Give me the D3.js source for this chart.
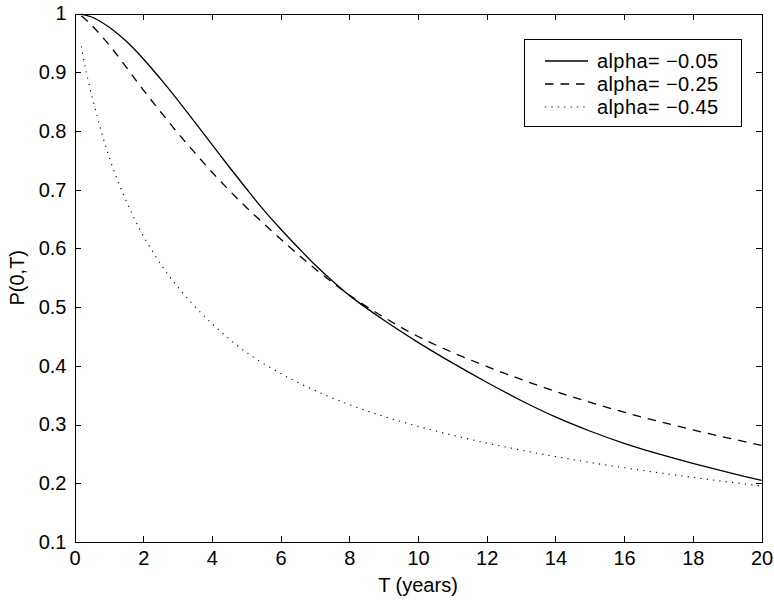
<html>
<head>
<meta charset="utf-8">
<script src="https://d3js.org/d3.v7.min.js"></script>
<style>
  body { margin: 0; background: #fff; }
  text { font-family: "Liberation Sans", Arial, Helvetica, sans-serif; }
  .axis path, .axis line { stroke: #000; stroke-width: 1; shape-rendering: crispEdges; }
</style>
</head>
<body>
<script>

// maturities (years) for the two upper curves
var T_main = [0.2, 0.5, 1, 1.5, 2, 2.5, 3, 3.5, 4, 4.5, 5, 5.5, 6, 6.5, 7, 7.5, 8, 9, 10, 11, 12, 13, 14, 15, 16, 17, 18, 19, 20];
// alpha = -0.05 (solid)
var P_a05 = [0.999, 0.994, 0.977, 0.953, 0.923, 0.889, 0.853, 0.815, 0.777, 0.739, 0.702, 0.666, 0.633, 0.602, 0.572, 0.545, 0.520, 0.478, 0.440, 0.405, 0.372, 0.341, 0.313, 0.289, 0.268, 0.250, 0.234, 0.219, 0.205];
// alpha = -0.25 (dashed)
var P_a25 = [0.996, 0.980, 0.947, 0.909, 0.870, 0.833, 0.797, 0.763, 0.730, 0.699, 0.670, 0.6425, 0.616, 0.590, 0.5655, 0.5425, 0.5205, 0.483, 0.450, 0.423, 0.399, 0.377, 0.3565, 0.338, 0.321, 0.3055, 0.291, 0.2775, 0.2645];

// alpha = -0.45 (dotted), falls fast so it gets more points at the start
var T_low = [0.2, 0.3, 0.45, 0.65, 0.85, 1.1, 1.4, 1.7, 2, 2.4, 2.8, 3.2, 3.75, 4.3, 5, 6, 7, 8, 9, 10, 11, 12, 13, 14, 15, 16, 17, 18, 19, 20];
var P_a45 = [0.944, 0.912, 0.873, 0.827, 0.785, 0.740, 0.695, 0.656, 0.6215, 0.583, 0.5495, 0.521, 0.486, 0.456, 0.423, 0.387, 0.358, 0.334, 0.314, 0.297, 0.282, 0.2685, 0.2565, 0.2455, 0.2355, 0.2265, 0.218, 0.210, 0.2025, 0.1955];

var xTicks = [0, 2, 4, 6, 8, 10, 12, 14, 16, 18, 20];
var yTicks = [0.1, 0.2, 0.3, 0.4, 0.5, 0.6, 0.7, 0.8, 0.9, 1];
var legendLabels = ["alpha= \u22120.05", "alpha= \u22120.25", "alpha= \u22120.45"];

var W = 774, H = 601;
var plotL = 74.5, plotT = 13.5, plotR = 761.5, plotB = 542;

var svg = d3.select("body").append("svg")
    .attr("width", W)
    .attr("height", H);

var x = d3.scaleLinear().domain([0, 20]).range([plotL, plotR]);
var y = d3.scaleLinear().domain([0.1, 1]).range([plotB, plotT]);

var tickFmt = function(d) { return d3.format("~g")(d); };

// bottom + left axes with labels, ticks pointing inward
svg.append("g").attr("class", "axis")
    .attr("transform", "translate(0," + plotB + ")")
    .call(d3.axisBottom(x).tickValues(xTicks).tickFormat(tickFmt)
        .tickSizeInner(-6).tickSizeOuter(0).tickPadding(9));

svg.append("g").attr("class", "axis")
    .attr("transform", "translate(" + plotL + ",0)")
    .call(d3.axisLeft(y).tickValues(yTicks).tickFormat(tickFmt)
        .tickSizeInner(-6).tickSizeOuter(0).tickPadding(8));

// top + right for the box
svg.append("g").attr("class", "axis")
    .attr("transform", "translate(0," + plotT + ")")
    .call(d3.axisTop(x).tickValues(xTicks).tickFormat("")
        .tickSizeInner(-6).tickSizeOuter(0));

svg.append("g").attr("class", "axis")
    .attr("transform", "translate(" + plotR + ",0)")
    .call(d3.axisRight(y).tickValues(yTicks).tickFormat("")
        .tickSizeInner(-6).tickSizeOuter(0));

svg.selectAll(".axis text")
    .style("font-size", "20px")
    .style("fill", "#000");

// axis titles
svg.append("text")
    .attr("x", (plotL + plotR) / 2)
    .attr("y", 592)
    .attr("text-anchor", "middle")
    .style("font-size", "20px")
    .text("T (years)");

svg.append("text")
    .attr("transform", "translate(24," + ((plotT + plotB) / 2) + ") rotate(-90)")
    .attr("text-anchor", "middle")
    .style("font-size", "20px")
    .text("P(0,T)");

// curves
var series = [
  { t: T_main, p: P_a05, dash: null, width: 1.3 },
  { t: T_main, p: P_a25, dash: "8.5,7", width: 1.3 },
  { t: T_low, p: P_a45, dash: "1.2,5.2", width: 1.1 }
];

var line = d3.line()
    .x(function(d) { return x(d[0]); })
    .y(function(d) { return y(d[1]); })
    .curve(d3.curveCatmullRom.alpha(0.5));

series.forEach(function(s) {
  var pts = s.t.map(function(t, i) { return [t, s.p[i]]; });
  svg.append("path")
      .datum(pts)
      .attr("d", line)
      .attr("fill", "none")
      .attr("stroke", "#000")
      .attr("stroke-width", s.width)
      .attr("stroke-dasharray", s.dash);
});

// legend
var lg = svg.append("g");
lg.append("rect")
    .attr("x", 524.5).attr("y", 39.5)
    .attr("width", 217).attr("height", 87)
    .attr("fill", "#fff").attr("stroke", "#000").attr("stroke-width", 1);

var rowY = [61, 84, 107];
legendLabels.forEach(function(lbl, i) {
  lg.append("line")
      .attr("x1", 545).attr("x2", 588)
      .attr("y1", rowY[i]).attr("y2", rowY[i])
      .attr("stroke", "#000")
      .attr("stroke-width", series[i].width)
      .attr("stroke-dasharray", series[i].dash);
  lg.append("text")
      .attr("x", 597)
      .attr("y", rowY[i])
      .attr("dy", "0.35em")
      .style("font-size", "20px")
      .style("letter-spacing", "0.4px")
      .text(lbl);
});

</script>
</body>
</html>
